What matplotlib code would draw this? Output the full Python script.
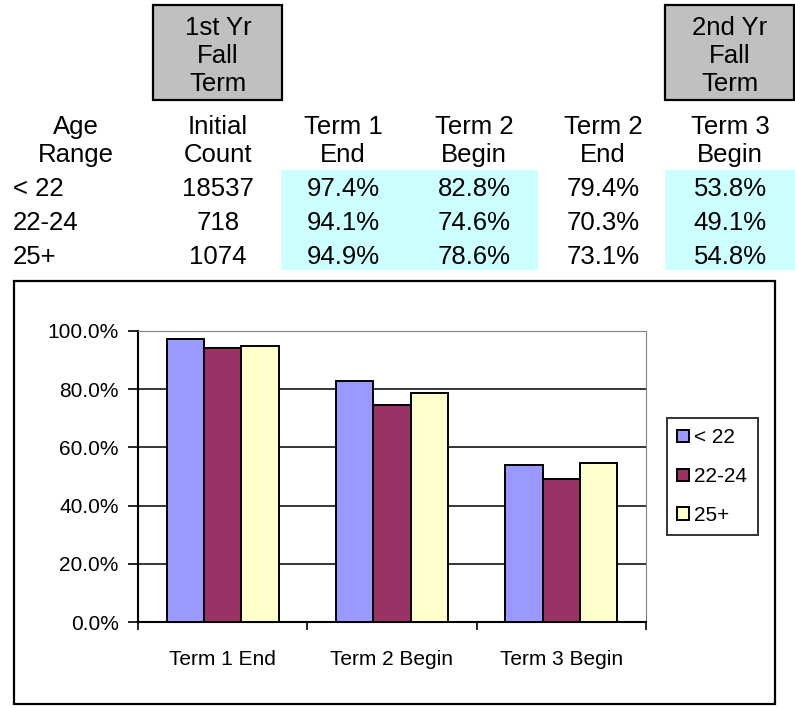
import matplotlib
matplotlib.use('Agg')
import matplotlib.pyplot as plt
from matplotlib.patches import Rectangle
from matplotlib.ticker import FuncFormatter

plt.rcParams['font.family'] = ['Liberation Sans', 'DejaVu Sans']

# data from the table
age_groups = ['< 22', '22-24', '25+']
initial_count = [18537, 718, 1074]
term1_end = [97.4, 94.1, 94.9]
term2_begin = [82.8, 74.6, 78.6]
term2_end = [79.4, 70.3, 73.1]
term3_begin = [53.8, 49.1, 54.8]

table_headers = ['Age\nRange', 'Initial\nCount', 'Term 1\nEnd', 'Term 2\nBegin', 'Term 2\nEnd', 'Term 3\nBegin']
chart_terms = ['Term 1 End', 'Term 2 Begin', 'Term 3 Begin']
bar_colors = ['#9999FF', '#993366', '#FFFFCC']

W, H = 795, 708
fig = plt.figure(figsize=(W / 100, H / 100), dpi=100)
TFS = 18.5
CFS = 15


def fx(x):
    return x / W


def fy(y):
    return 1 - y / H


def px_rect(x0, y0, x1, y1, **kw):
    fig.patches.append(Rectangle((fx(x0), fy(y1)), fx(x1) - fx(x0), fy(y0) - fy(y1),
                                 transform=fig.transFigure, figure=fig, **kw))


# gray term boxes
for x0, label in [(153, '1st Yr\nFall\nTerm'), (665, '2nd Yr\nFall\nTerm')]:
    px_rect(x0, 5, x0 + 129, 100, facecolor='#C0C0C0', edgecolor='black', linewidth=1.6)
    fig.text(fx(x0 + 65), fy(56), label, ha='center', va='center', fontsize=TFS, linespacing=1.2)

# cyan shading
px_rect(281, 170, 538, 270, facecolor='#CCFFFF', edgecolor='none')
px_rect(665, 170, 795, 270, facecolor='#CCFFFF', edgecolor='none')

col_x = [76, 218, 343, 474, 603, 730]
for x, h in zip(col_x, table_headers):
    fig.text(fx(x), fy(141), h, ha='center', va='center', fontsize=TFS, linespacing=1.25)

row_y = [189, 223, 257]
for i, y in enumerate(row_y):
    fig.text(fx(13), fy(y), age_groups[i], ha='left', va='center', fontsize=TFS)
    fig.text(fx(col_x[1]), fy(y), str(initial_count[i]), ha='center', va='center', fontsize=TFS)
    for x, col in zip(col_x[2:], [term1_end, term2_begin, term2_end, term3_begin]):
        fig.text(fx(x), fy(y), f'{col[i]:.1f}%', ha='center', va='center', fontsize=TFS)

# chart outer border
px_rect(14, 281, 775, 704, facecolor='none', edgecolor='black', linewidth=1.6)

ax = fig.add_axes([fx(138), fy(622), fx(646) - fx(138), fy(331) - fy(622)])
chart_values = [[term1_end[i], term2_begin[i], term3_begin[i]] for i in range(3)]
width = 0.22
for i in range(3):
    xs = [k + (i - 1) * width for k in range(3)]
    ax.bar(xs, [v / 100 for v in chart_values[i]], width=width, color=bar_colors[i],
           edgecolor='black', linewidth=1.4, label=age_groups[i], zorder=3)

ax.set_xlim(-0.5, 2.5)
ax.set_ylim(0, 1.0)
ax.set_yticks([0, 0.2, 0.4, 0.6, 0.8, 1.0])
ax.yaxis.set_major_formatter(FuncFormatter(lambda v, p: f'{v * 100:.1f}%'))
ax.yaxis.grid(True, color='black', linewidth=1.1, zorder=0)
ax.set_axisbelow(True)
ax.set_xticks([0, 1, 2])
ax.set_xticklabels(chart_terms)
ax.set_xticks([-0.5, 0.5, 1.5, 2.5], minor=True)
ax.tick_params(axis='x', which='major', length=0, pad=20, labelsize=CFS)
ax.tick_params(axis='x', which='minor', length=6, direction='out', width=1.2)
ax.tick_params(axis='y', length=7, width=1.2, pad=7, labelsize=CFS)
ax.spines['top'].set_color('#808080')
ax.spines['right'].set_color('#808080')
for s in ['left', 'bottom']:
    ax.spines[s].set_color('black')
    ax.spines[s].set_linewidth(1.5)

leg = ax.legend(loc='upper left', bbox_to_anchor=(fx(667), fy(418)), bbox_transform=fig.transFigure,
                fontsize=CFS, frameon=True, fancybox=False, handlelength=0.55, handleheight=0.55,
                handletextpad=0.25, labelspacing=0.95, borderpad=0.5, borderaxespad=0)
leg.get_frame().set_edgecolor('black')
leg.get_frame().set_linewidth(1.4)

fig.savefig('out.png', dpi=100)
